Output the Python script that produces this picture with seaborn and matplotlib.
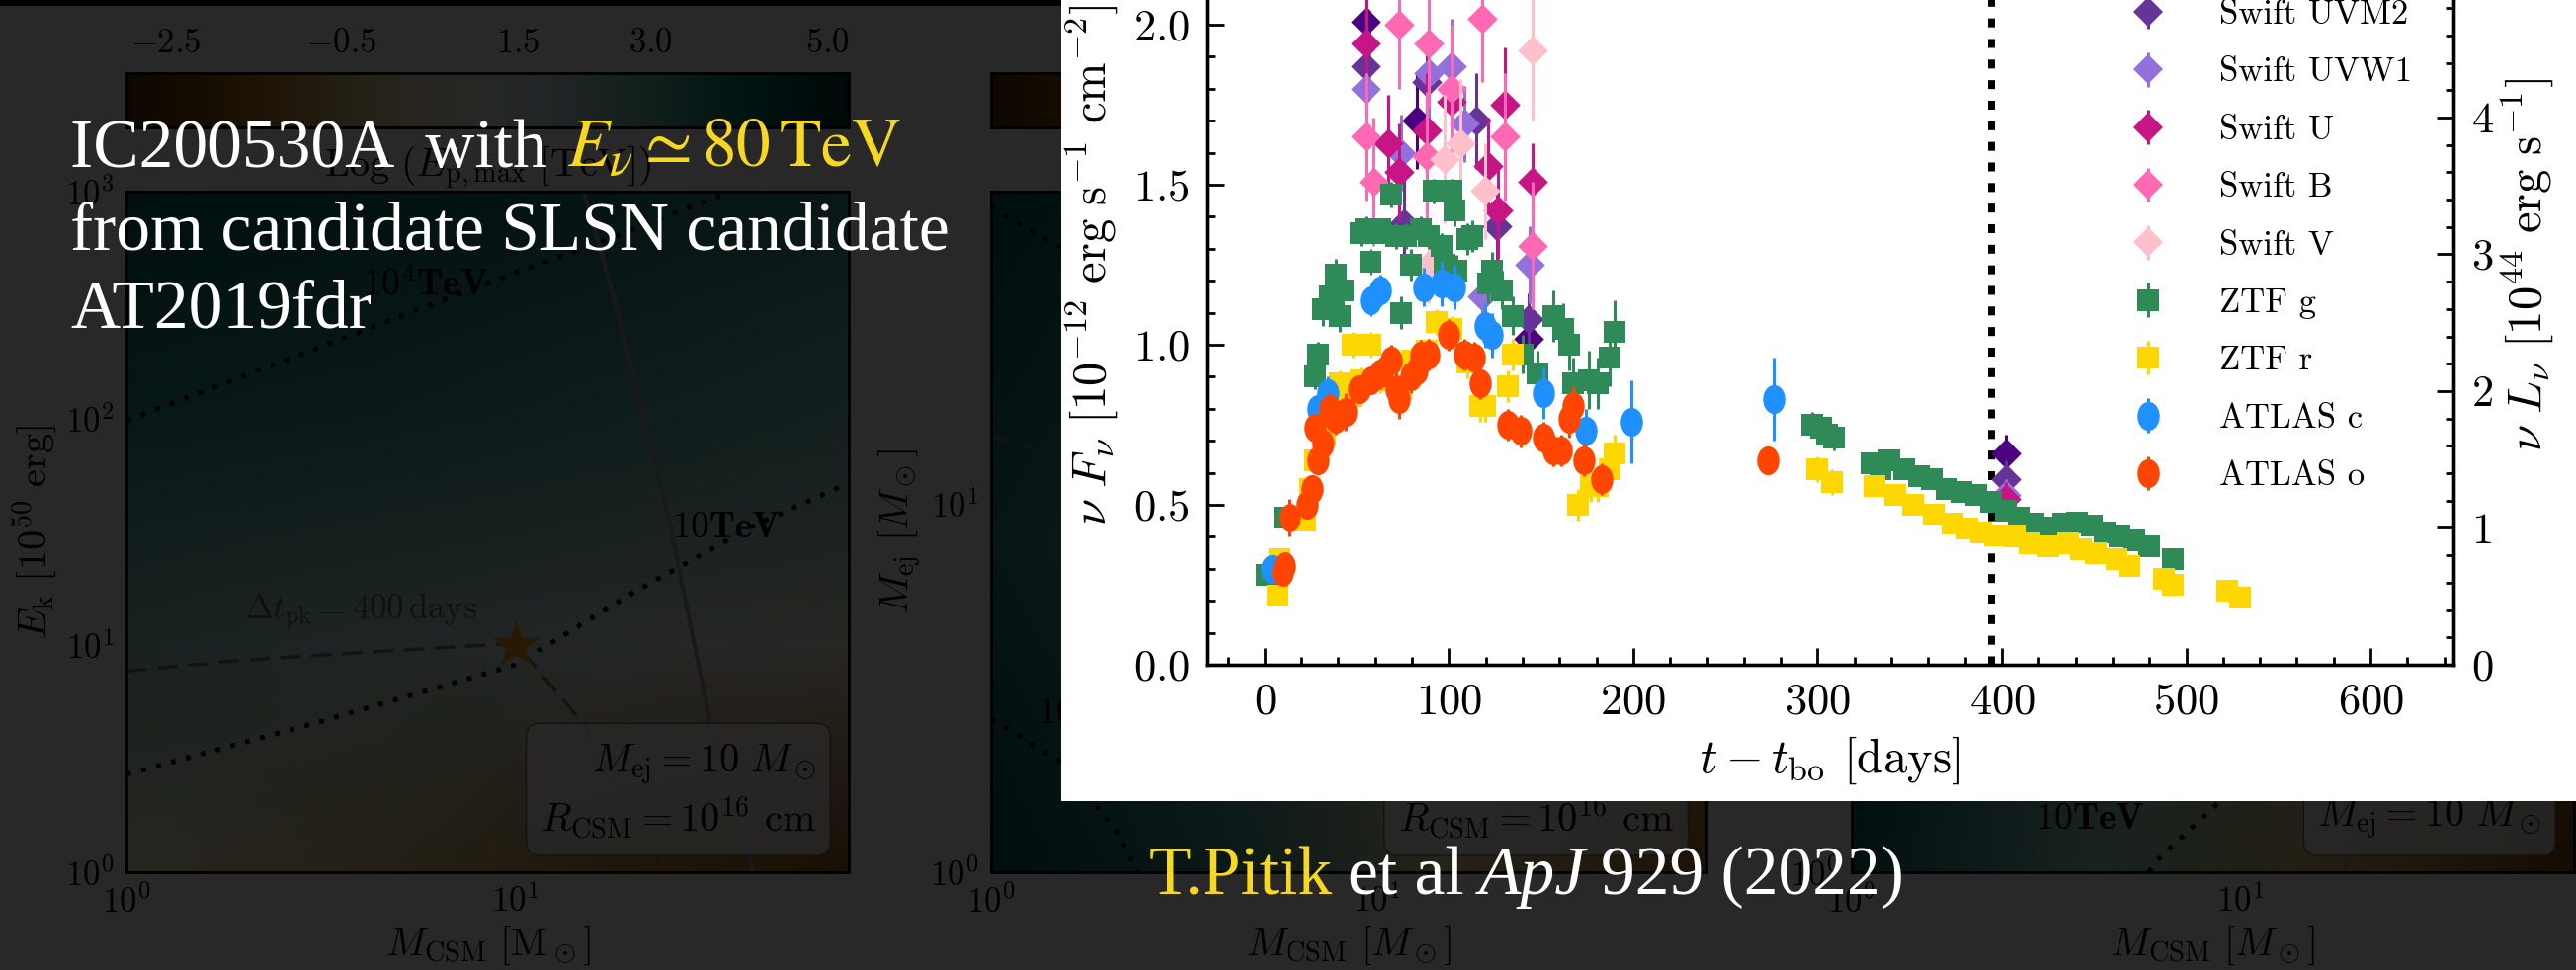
import numpy as np
import pandas as pd
import matplotlib
matplotlib.use("Agg")
import matplotlib.pyplot as plt
import seaborn as sns
from matplotlib.patches import Rectangle
from matplotlib.path import Path
from matplotlib.transforms import Affine2D
from matplotlib.ticker import MultipleLocator, NullFormatter

# ---------------------------------------------------------------- light curve data
# days since shock breakout, nu F_nu [1e-12 erg s^-1 cm^-2], 1-sigma error
uvw2_t = [55, 82.4, 143, 402]
uvw2_f = [2.01, 1.70, 1.02, 0.66]
uvw2_e = [0.15, 0.15, 0.08, 0.06]

uvm2_t = [55, 75.5, 88, 115, 126, 143, 402]
uvm2_f = [1.87, 1.38, 1.82, 1.70, 1.37, 1.08, 0.58]
uvm2_e = [0.15, 0.15, 0.15, 0.15, 0.12, 0.08, 0.06]

uvw1_t = [55, 74, 89, 101.6, 108.5, 118, 144, 402]
uvw1_f = [1.80, 1.60, 1.85, 1.87, 1.69, 1.15, 1.25, 0.53]
uvw1_e = [0.15, 0.12, 0.15, 0.15, 0.12, 0.10, 0.12, 0.05]

u_t = [55, 67, 73, 88, 101.6, 121, 126.4, 130.5, 145.6, 402]
u_f = [1.94, 1.63, 1.54, 1.67, 1.76, 1.56, 1.42, 1.75, 1.51, 0.52]
u_e = [0.20, 0.15, 0.15, 0.18, 0.20, 0.15, 0.15, 0.18, 0.12, 0.05]

b_t = [55, 59, 73, 88, 89, 101.6, 118, 130.5, 145.6]
b_f = [1.65, 1.51, 2.00, 1.59, 1.94, 1.80, 2.02, 1.65, 1.31]
b_e = [0.20, 0.20, 0.20, 0.20, 0.20, 0.20, 0.20, 0.20, 0.20]

v_t = [89, 97.5, 106, 119.5, 145.6]
v_f = [1.25, 1.58, 1.63, 1.48, 1.92]
v_e = [0.12, 0.20, 0.20, 0.15, 0.22]

ztfg_t = [1.4, 11, 27.5, 29, 31.6, 35.7, 38.5, 41, 42.6, 52, 55, 57.7, 60, 63,
          68.7, 71.4, 74, 77, 79.7, 85, 89, 92, 96, 97.5, 101.6, 103, 104, 110,
          112.6, 121, 123.6, 129, 134.6, 140, 148, 156.6, 162, 165, 167.6, 176,
          181, 187, 189.6,
          297, 302, 305, 309, 329, 334, 339, 347, 355, 362, 370, 378, 386, 394,
          402, 409, 417, 425, 433, 441, 449, 456, 464, 472, 480, 493]
ztfg_f = [0.28, 0.46, 0.90, 0.97, 1.11, 1.15, 1.22, 1.09, 1.17, 1.35, 1.36, 1.26, 1.35, 1.36,
          1.47, 1.34, 1.10, 1.34, 1.25, 1.36, 1.34, 1.48, 1.31, 1.25, 1.48, 1.42, 1.23, 1.33,
          1.34, 1.19, 1.23, 1.17, 1.09, 0.97, 0.91, 1.09, 1.05, 1.00, 0.88, 0.89,
          0.88, 0.96, 1.04,
          0.75, 0.74, 0.72, 0.71, 0.63, 0.61, 0.64, 0.61, 0.59, 0.58, 0.55, 0.54, 0.53, 0.51,
          0.48, 0.46, 0.44, 0.43, 0.44, 0.445, 0.435, 0.415, 0.40, 0.39, 0.37, 0.33]
ztfg_e = [0.03, 0.03, 0.04, 0.04, 0.05, 0.05, 0.05, 0.05, 0.05, 0.04, 0.04, 0.04, 0.03, 0.03,
          0.04, 0.04, 0.05, 0.04, 0.05, 0.04, 0.04, 0.04, 0.04, 0.05, 0.04, 0.05, 0.05, 0.05,
          0.05, 0.06, 0.06, 0.06, 0.06, 0.06, 0.07, 0.08, 0.08, 0.08, 0.08, 0.09,
          0.08, 0.09, 0.10,
          0.04, 0.04, 0.04, 0.04, 0.03, 0.03, 0.03, 0.03, 0.03, 0.02, 0.02, 0.02, 0.02, 0.02,
          0.02, 0.02, 0.02, 0.02, 0.02, 0.02, 0.02, 0.02, 0.02, 0.02, 0.02, 0.02]

ztfr_t = [6.9, 8, 22, 24.7, 27.5, 33, 36, 41, 46.7, 48, 52, 57.7, 63, 74, 80, 88,
          93.4, 101.6, 110, 117, 119.5, 132, 134.6, 170, 177, 181, 187, 189.6,
          300, 308, 331, 342, 352, 363, 373, 381, 389, 396, 407, 415, 425, 436,
          443, 451, 462, 469, 488, 493, 522, 529]
ztfr_f = [0.215, 0.33, 0.45, 0.55, 0.64, 0.72, 0.84, 0.88, 0.84, 1.00, 0.89, 1.00, 0.89, 0.86, 0.95, 0.98,
          1.07, 1.05, 0.945, 0.81, 0.81, 0.87, 0.97, 0.50, 0.56, 0.56, 0.61, 0.66,
          0.61, 0.57, 0.56, 0.53, 0.50, 0.47, 0.44, 0.425, 0.415, 0.405, 0.40, 0.38, 0.37, 0.38,
          0.36, 0.35, 0.33, 0.31, 0.27, 0.25, 0.23, 0.21]
ztfr_e = [0.03, 0.03, 0.03, 0.03, 0.03, 0.03, 0.04, 0.04, 0.04, 0.04, 0.04, 0.04, 0.04, 0.04, 0.04, 0.04,
          0.04, 0.04, 0.05, 0.05, 0.05, 0.05, 0.05, 0.05, 0.05, 0.05, 0.06, 0.06,
          0.04, 0.04, 0.03, 0.03, 0.03, 0.03, 0.03, 0.03, 0.03, 0.03, 0.03, 0.03, 0.03, 0.03,
          0.03, 0.03, 0.03, 0.03, 0.03, 0.03, 0.02, 0.02]

atc_t = [4, 28.8, 34.3, 57.7, 63, 86.5, 96, 103, 119.5, 123.6, 151, 174.5, 199, 276]
atc_f = [0.30, 0.80, 0.85, 1.14, 1.17, 1.18, 1.19, 1.18, 1.06, 1.03, 0.85, 0.73, 0.76, 0.83]
atc_e = [0.03, 0.04, 0.05, 0.05, 0.05, 0.06, 0.07, 0.07, 0.07, 0.07, 0.08, 0.07, 0.13, 0.13]

ato_t = [9.6, 11, 13.7, 23.4, 26, 27.5, 28.8, 31.6, 35.7, 37, 38.5, 44, 50.8, 57.7,
         63, 68.7, 71.4, 72.8, 79.7, 82.4, 85, 89, 100, 108.5, 114, 116.8, 132,
         138.7, 151, 156.6, 160.7, 165, 167.6, 173, 182.7, 273]
ato_f = [0.29, 0.31, 0.46, 0.50, 0.55, 0.74, 0.64, 0.69, 0.80, 0.78, 0.77, 0.79, 0.86, 0.89,
         0.91, 0.95, 0.86, 0.83, 0.90, 0.92, 0.965, 0.97, 1.03, 0.97, 0.96, 0.88, 0.75,
         0.73, 0.71, 0.67, 0.67, 0.77, 0.81, 0.64, 0.58, 0.64]
ato_e = [0.04, 0.04, 0.06, 0.04, 0.04, 0.04, 0.04, 0.05, 0.05, 0.05, 0.05, 0.06, 0.04, 0.04,
         0.05, 0.05, 0.06, 0.06, 0.05, 0.05, 0.05, 0.05, 0.05, 0.05, 0.05, 0.05, 0.05,
         0.05, 0.05, 0.05, 0.05, 0.06, 0.06, 0.05, 0.05, 0.04]

band_names = ["Swift UVW2", "Swift UVM2", "Swift UVW1", "Swift U", "Swift B", "Swift V",
              "ZTF g", "ZTF r", "ATLAS c", "ATLAS o"]
band_data = [(uvw2_t, uvw2_f, uvw2_e), (uvm2_t, uvm2_f, uvm2_e), (uvw1_t, uvw1_f, uvw1_e),
             (u_t, u_f, u_e), (b_t, b_f, b_e), (v_t, v_f, v_e),
             (ztfg_t, ztfg_f, ztfg_e), (ztfr_t, ztfr_f, ztfr_e),
             (atc_t, atc_f, atc_e), (ato_t, ato_f, ato_e)]

neutrino_day = [394]                 # IC200530A arrival
lum_per_flux = 2.339                 # 1e44 erg/s per 1e-12 erg/s/cm2

# ---------------------------------------------------------------- model panels data
# left panel: E_p,max map over (M_CSM, E_k)
pA_M = [1, 4.5, 20, 72]
pA_E = [1, 10, 100, 1000]
pA_Z = [[0.5, -0.3, -1.2, -1.8],
        [2.4, 2.0, 1.4, 0.8],
        [3.6, 3.4, 3.1, 2.8],
        [4.4, 4.2, 3.9, 3.6]]
pA_dot_hi_M = [1, 3, 10, 15.5, 25, 36]
pA_dot_hi_E = [98, 200, 440, 575, 790, 1000]
pA_dot_lo_M = [1, 3, 10, 20, 40, 72]
pA_dot_lo_E = [2.7, 4.5, 8.2, 17, 33, 52]
pA_solid_M = [15, 18.3, 25, 32, 41]
pA_solid_E = [1000, 300, 34, 4.2, 1]
pA_dash_M = [1, 2, 4, 10, 15, 23.5]
pA_dash_E = [7.7, 8.6, 9.3, 10.2, 4.5, 1.1]
star_M = [10]
star_E = [10]

# middle panel: E_p,max map over (M_CSM, M_ej)
pB_M = [1, 4, 15, 72]
pB_Y = [1, 8, 70]
pB_Z = [[4.6, 3.5, 0.0, -1.5],
        [3.8, 3.0, 1.0, -0.5],
        [4.5, 3.8, 2.5, 1.0]]
pB_dot_hi_M = [1.0, 1.06, 1.6]
pB_dot_hi_Y = [64, 61, 48]
pB_dash_M = [1.0, 1.05, 1.6]
pB_dash_Y = [15.3, 15.0, 13.0]
pB_dot_lo_M = [1.0, 1.07, 1.57, 1.86, 2.1, 2.4]
pB_dot_lo_Y = [2.6, 2.5, 1.94, 1.53, 1.31, 1.0]

# right panel
pC_M = [1, 4, 15, 72]
pC_Y = [1, 8, 70]
pC_Z = [[4.3, 2.5, -0.5, -2.2],
        [4.5, 3.0, 0.5, -1.5],
        [4.8, 3.8, 2.0, 0.0]]
pC_dot_M = [5.8, 6.0, 8.7, 10.5]
pC_dot_Y = [1.0, 1.06, 1.53, 1.8]
pC_solid_M = [18.5, 19.5]
pC_solid_Y = [1.0, 1.3]

cbar_ticks = [-2.5, -0.5, 1.5, 3.0, 5.0]
cbar_range = (-2.94, 5.24)

# ---------------------------------------------------------------- styling
band_colors = {"Swift UVW2": "#4B0082", "Swift UVM2": "#663399", "Swift UVW1": "#9370DB",
               "Swift U": "#C71585", "Swift B": "#FF69B4", "Swift V": "#FFC0CB",
               "ZTF g": "#2E8B57", "ZTF r": "#FFD700", "ATLAS c": "#1E90FF",
               "ATLAS o": "#FF4500"}
tall_dot = Path.unit_circle().transformed(Affine2D().scale(0.77, 1.0))
band_markers = {n: "D" for n in band_names[:6]}
band_markers.update({"ZTF g": "s", "ZTF r": "s", "ATLAS c": tall_dot, "ATLAS o": tall_dot})
band_ms = {n: 15.5 for n in band_names[:6]}
band_ms.update({"ZTF g": 16.5, "ZTF r": 16.5, "ATLAS c": 21, "ATLAS o": 21})

sns.set_theme(style="ticks")
plt.rcParams.update({
    "font.family": "serif",
    "font.serif": ["cmr10"],
    "mathtext.fontset": "cm",
    "axes.formatter.use_mathtext": True,
    "axes.unicode_minus": False,
    "axes.edgecolor": "black",
    "axes.labelcolor": "black",
    "text.color": "black",
    "xtick.color": "black",
    "ytick.color": "black",
})

W, H = 2607, 982
fig = plt.figure(figsize=(W / 100, H / 100), dpi=100, facecolor="white")


def px_rect(x0, y0, x1, y1):
    return [x0 / W, 1 - y1 / H, (x1 - x0) / W, (y1 - y0) / H]


def model_panel(rect, crect, xs, ys, zs, ylim, show_cbar_labels):
    ax = fig.add_axes(rect, zorder=1)
    X, Y = np.meshgrid(xs, ys)
    mesh = ax.pcolormesh(X, Y, np.array(zs), shading="gouraud", cmap="BrBG",
                         vmin=cbar_range[0], vmax=cbar_range[1])
    ax.set_xscale("log")
    ax.set_yscale("log")
    ax.set_xlim(1, 72)
    ax.set_ylim(*ylim)
    ax.xaxis.set_minor_formatter(NullFormatter())
    ax.yaxis.set_minor_formatter(NullFormatter())
    ax.tick_params(which="both", direction="in", top=True, right=True,
                   labelsize=25, width=1.5, pad=9)
    ax.tick_params(which="major", length=10)
    ax.tick_params(which="minor", length=5)
    for s in ax.spines.values():
        s.set_linewidth(2)
    cax = fig.add_axes(crect, zorder=1)
    cb = fig.colorbar(mesh, cax=cax, orientation="horizontal")
    cb.set_ticks(cbar_ticks)
    cb.minorticks_on()
    cb.outline.set_linewidth(2)
    cax.xaxis.set_ticks_position("top")
    cax.xaxis.set_label_position("bottom")
    cax.tick_params(which="both", direction="in", labelsize=25, pad=10, width=1.5)
    cax.tick_params(which="major", length=10)
    cax.tick_params(which="minor", length=5)
    if not show_cbar_labels:
        cax.tick_params(labeltop=False)
    return ax, cb


dot_style = dict(color="black", lw=3.5, ls=(0, (1, 2.2)))
dash_style = dict(color="#7a7a7a", lw=2.5, ls=(0, (6, 3)))
solid_style = dict(color="#a0a0a0", lw=3)
box_style = dict(boxstyle="round,pad=0.35", fc="white", ec="0.35", alpha=0.8)

# left panel
axA, cbA = model_panel(px_rect(128, 194, 859, 883), px_rect(128, 74, 859, 129),
                       pA_M, pA_E, pA_Z, (1, 1000), True)
cbA.set_label(r"${\rm Log}\ (E_{\rm p,max}\ [{\rm TeV}])$", fontsize=29, labelpad=12)
axA.plot(pA_dot_hi_M, pA_dot_hi_E, **dot_style)
axA.plot(pA_dot_lo_M, pA_dot_lo_E, **dot_style)
axA.plot(pA_solid_M, pA_solid_E, **solid_style)
axA.plot(pA_dash_M, pA_dash_E, **dash_style)
axA.plot(star_M, star_E, marker="*", ms=34, color="orange", ls="none")
axA.text(5.9, 390, r"$\mathbf{10^{4}TeV}$", fontsize=27, ha="center", va="center")
axA.text(35, 33, r"$\mathbf{10TeV}$", fontsize=27, ha="center", va="center")
axA.text(4.0, 14, r"$\Delta t_{\rm pk}=400\,{\rm days}$", fontsize=25, color="#6a6a6a",
         ha="center", va="center")
axA.text(0.955, 0.045, "$M_{\\rm ej}=10\\ M_\\odot$\n$R_{\\rm CSM}=10^{16}$ cm",
         transform=axA.transAxes, ha="right", va="bottom", fontsize=29, bbox=box_style)
axA.set_xlabel(r"$M_{\rm CSM}\ [{\rm M}_\odot]$", fontsize=29, labelpad=4)
axA.set_ylabel(r"$E_{\rm k}\ [10^{50}\ {\rm erg}]$", fontsize=29, labelpad=4)

# middle panel
axB, cbB = model_panel(px_rect(1003, 194, 1727, 883), px_rect(1003, 74, 1727, 129),
                       pB_M, pB_Y, pB_Z, (1, 70), False)
axB.plot(pB_dot_hi_M, pB_dot_hi_Y, **dot_style)
axB.plot(pB_dot_lo_M, pB_dot_lo_Y, **dot_style)
axB.plot(pB_dash_M, pB_dash_Y, **dash_style)
axB.text(1.32, 2.7, r"$\mathbf{10TeV}$", fontsize=27, ha="left", va="center")
axB.text(0.955, 0.045, "$R_{\\rm CSM}=10^{16}$ cm", transform=axB.transAxes,
         ha="right", va="bottom", fontsize=29, bbox=box_style)
axB.set_xlabel(r"$M_{\rm CSM}\ [M_\odot]$", fontsize=29, labelpad=4)
axB.set_ylabel(r"$M_{\rm ej}\ [M_\odot]$", fontsize=29, labelpad=4)

# right panel
axC, cbC = model_panel(px_rect(1874, 194, 2605, 883), px_rect(1874, 74, 2605, 129),
                       pC_M, pC_Y, pC_Z, (1, 70), False)
axC.plot(pC_dot_M, pC_dot_Y, **dot_style)
axC.plot(pC_solid_M, pC_solid_Y, **solid_style)
axC.text(4.1, 1.39, r"$\mathbf{10TeV}$", fontsize=27, ha="center", va="center")
axC.text(0.955, 0.045, "$M_{\\rm ej}=10\\ M_\\odot$", transform=axC.transAxes,
         ha="right", va="bottom", fontsize=29, bbox=box_style)
axC.set_xlabel(r"$M_{\rm CSM}\ [M_\odot]$", fontsize=29, labelpad=4)

# dark veil over the slide, top strip, and the white card for the light curve
veil = fig.add_axes([0, 0, 1, 1], zorder=3)
veil.set_axis_off()
veil.set_xlim(0, W)
veil.set_ylim(H, 0)
veil.add_patch(Rectangle((0, 0), W, H, color="black", alpha=0.843, lw=0, zorder=1))
veil.add_patch(Rectangle((0, 0), W, 6, color="black", lw=0, zorder=2))
veil.add_patch(Rectangle((1074, 0), W - 1074, 811, color="white", lw=0, zorder=3))

# ---------------------------------------------------------------- light curve
ax = fig.add_axes(px_rect(1222, -137, 2483, 673), zorder=6)
ax.patch.set_visible(False)

frames = []
for name, (t, f, e) in zip(band_names, band_data):
    frames.append(pd.DataFrame({"t": t, "F": f, "err": e, "band": name}))
lc = pd.concat(frames, ignore_index=True)

handles = []
for i, name in enumerate(band_names):
    sub = lc[lc["band"] == name]
    mk = band_markers[name]
    ms = band_ms[name]
    col = band_colors[name]
    ax.errorbar(sub["t"], sub["F"], yerr=sub["err"], fmt="none",
                ecolor=col, elinewidth=2.2, capsize=0, zorder=2 + i * 0.1)
    sns.scatterplot(data=sub, x="t", y="F", ax=ax, marker=mk, s=ms ** 2,
                    color=col, linewidth=0, legend=False, zorder=2.05 + i * 0.1)
    # legend proxy: marker with a vertical error bar through it
    h = ax.errorbar([np.nan], [np.nan], yerr=[0.1], marker=mk, ls="none", ms=ms,
                    mew=0, color=col, ecolor=col, elinewidth=2.2, capsize=0, label=name)
    handles.append(h)

for d in neutrino_day:
    ax.axvline(d, color="black", lw=5, ls=(0, (1.3, 1.7)), zorder=1.5)

ax.set_xlim(-31, 645)
ax.set_ylim(0, 2.5)
ax.xaxis.set_major_locator(MultipleLocator(100))
ax.xaxis.set_minor_locator(MultipleLocator(20))
ax.yaxis.set_major_locator(MultipleLocator(0.5))
ax.yaxis.set_minor_locator(MultipleLocator(0.1))
ax.tick_params(which="both", direction="in", width=2, labelsize=32, pad=13,
               top=False, right=False)
ax.tick_params(which="major", length=12)
ax.tick_params(which="minor", length=6)
for s in ax.spines.values():
    s.set_linewidth(2.4)
ax.set_xlabel(r"$t - t_{\rm bo}$ [days]", fontsize=35, labelpad=9)
ax.set_ylabel(r"$\nu\ F_\nu\ [10^{-12}\ {\rm erg\ s^{-1}\ cm^{-2}}]$", fontsize=35, labelpad=10)

axr = ax.twinx()
axr.set_zorder(5)
axr.patch.set_visible(False)
axr.set_ylim(0, 2.5 * lum_per_flux)
axr.yaxis.set_major_locator(MultipleLocator(1))
axr.yaxis.set_minor_locator(MultipleLocator(0.2))
axr.tick_params(which="both", direction="in", width=2, labelsize=32, pad=13)
axr.tick_params(which="major", length=12)
axr.tick_params(which="minor", length=6)
for s in axr.spines.values():
    s.set_linewidth(2.4)
axr.set_ylabel(r"$\nu\ L_\nu\ [10^{44}\ {\rm erg\ s^{-1}}]$", fontsize=35, labelpad=3)

ax.legend(handles=handles, loc="upper left", bbox_to_anchor=(2157 / W, 1 + 59 / H),
          bbox_transform=fig.transFigure, frameon=False, fontsize=25, handlelength=1.0,
          handletextpad=1.55, labelspacing=0.77, borderpad=0, borderaxespad=0)

# ---------------------------------------------------------------- slide text
renderer = fig.canvas.get_renderer()
YELLOW = "#F5D81F"
slide_font = dict(fontsize=50, family="Liberation Serif", math_fontfamily="stix",
                  va="baseline", ha="left", zorder=20)


def text_run(x, y, pieces):
    for gap, s, color, style in pieces:
        x += gap
        t = fig.text(x / W, 1 - y / H, s, color=color, style=style, **slide_font)
        x = t.get_window_extent(renderer).x1
    return x


text_run(71, 169, [(0, "IC200530A  with", "white", "normal"),
                   (20, r"$E_\nu \simeq 80\,\mathrm{TeV}$", YELLOW, "normal")])
text_run(71, 252, [(0, "from candidate SLSN candidate", "white", "normal")])
text_run(71, 331, [(0, "AT2019fdr", "white", "normal")])
text_run(1163, 905, [(0, "T.Pitik", YELLOW, "normal"),
                     (15, "et al", "white", "normal"),
                     (15, "ApJ", "white", "italic"),
                     (15, "929 (2022)", "white", "normal")])

fig.savefig("out.png", dpi=100)
